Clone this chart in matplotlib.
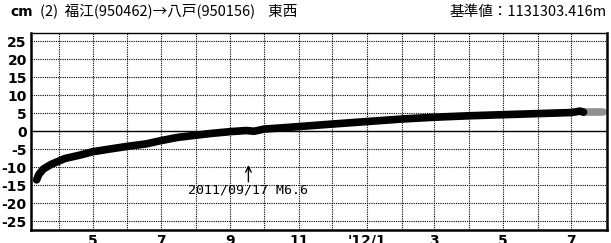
import matplotlib
matplotlib.use("Agg")
import matplotlib.pyplot as plt
import numpy as np
import pandas as pd

plt.rcParams['font.family'] = ['Noto Sans CJK JP', 'DejaVu Sans']

# 東西成分 (cm) 福江→八戸
dates = pd.to_datetime([
    '2011-03-12', '2011-03-14', '2011-03-18', '2011-03-25', '2011-04-06',
    '2011-04-20', '2011-05-01', '2011-05-15', '2011-06-01', '2011-06-18',
    '2011-07-01', '2011-07-16', '2011-08-01', '2011-08-15', '2011-09-01',
    '2011-09-15', '2011-09-22', '2011-10-01', '2011-10-15', '2011-11-01',
    '2011-12-01', '2012-01-01', '2012-02-01', '2012-03-01', '2012-04-01',
    '2012-05-01', '2012-06-01', '2012-07-01', '2012-07-09', '2012-07-12',
])
values = [
    -13.5, -12.0, -10.5, -9.2, -7.6,
    -6.6, -5.7, -5.0, -4.2, -3.5,
    -2.6, -1.7, -1.1, -0.6, -0.1,
    0.2, 0.0, 0.6, 0.9, 1.3,
    2.0, 2.7, 3.4, 3.9, 4.3,
    4.6, 4.9, 5.2, 5.6, 5.3,
]
# 速報値 (灰色)
prelim_dates = pd.to_datetime(['2012-07-12', '2012-07-20', '2012-07-29'])
prelim_values = [5.3, 5.3, 5.3]

yticks = [25, 20, 15, 10, 5, 0, -5, -10, -15, -20, -25]
xtick_dates = pd.to_datetime(['2011-05-01', '2011-07-01', '2011-09-01', '2011-11-01',
                              '2012-01-01', '2012-03-01', '2012-05-01', '2012-07-01'])
xtick_labels = ['5', '7', '9', '11', "'12/1", '3', '5', '7']
quake_date = pd.Timestamp('2011-09-17')
quake_label = '2011/09/17 M6.6'

narrow = ['Liberation Sans Narrow', 'DejaVu Sans']

fig = plt.figure(figsize=(6.11, 2.43), dpi=100)
ax = fig.add_axes([31 / 611, 1 - 229.5 / 243, 576 / 611, 196.5 / 243])

ax.plot(dates, values, color='black', linewidth=5.5, solid_capstyle='round', zorder=3)
ax.plot(prelim_dates, prelim_values, color='#909090', linewidth=5.5, solid_capstyle='round', zorder=2)

ax.set_xlim(pd.Timestamp('2011-03-07'), pd.Timestamp('2012-08-02'))
ax.set_ylim(-27.3, 27.3)

# グリッド
months = pd.date_range('2011-04-01', '2012-07-01', freq='MS')
for m in months:
    ax.axvline(m, color='black', linewidth=0.8, linestyle=(0, (1, 1)), zorder=1)
for y in yticks:
    if y == 0:
        ax.axhline(0, color='black', linewidth=1.0, zorder=1)
    else:
        ax.axhline(y, color='black', linewidth=0.8, linestyle=(0, (1, 1)), zorder=1)

ax.set_yticks(yticks)
ax.set_yticklabels([str(v) for v in yticks], fontsize=10, fontweight='bold', family=narrow)
ax.set_xticks(xtick_dates)
ax.set_xticklabels(xtick_labels, fontsize=10, fontweight='bold', family=narrow)
ax.tick_params(axis='both', length=0)
ax.tick_params(axis='y', pad=3)
ax.tick_params(axis='x', pad=3)

for side in ['left', 'bottom', 'right', 'top']:
    ax.spines[side].set_linewidth(1.8 if side != 'top' else 1.0)

# 地震の注記
ax.annotate('', xy=(quake_date, -8.6), xytext=(quake_date, -14.8),
            arrowprops=dict(arrowstyle='->', color='black', linewidth=1.0))
ax.text(quake_date, -16.3, quake_label, ha='center', va='center', fontsize=9.5,
        family=['DejaVu Sans Mono'], color='black')

fig.text(10 / 611, 1 - 12 / 243, 'cm', fontsize=10, fontweight='bold', va='center', ha='left',
         family=narrow)
fig.text(40 / 611, 1 - 12 / 243, '(2)  福江(950462)→八戸(950156)    東西', fontsize=10.5,
         va='center', ha='left')
fig.text(607 / 611, 1 - 12 / 243, '基準値：1131303.416m', fontsize=10.5, va='center', ha='right')

fig.savefig('out.png', dpi=100)
